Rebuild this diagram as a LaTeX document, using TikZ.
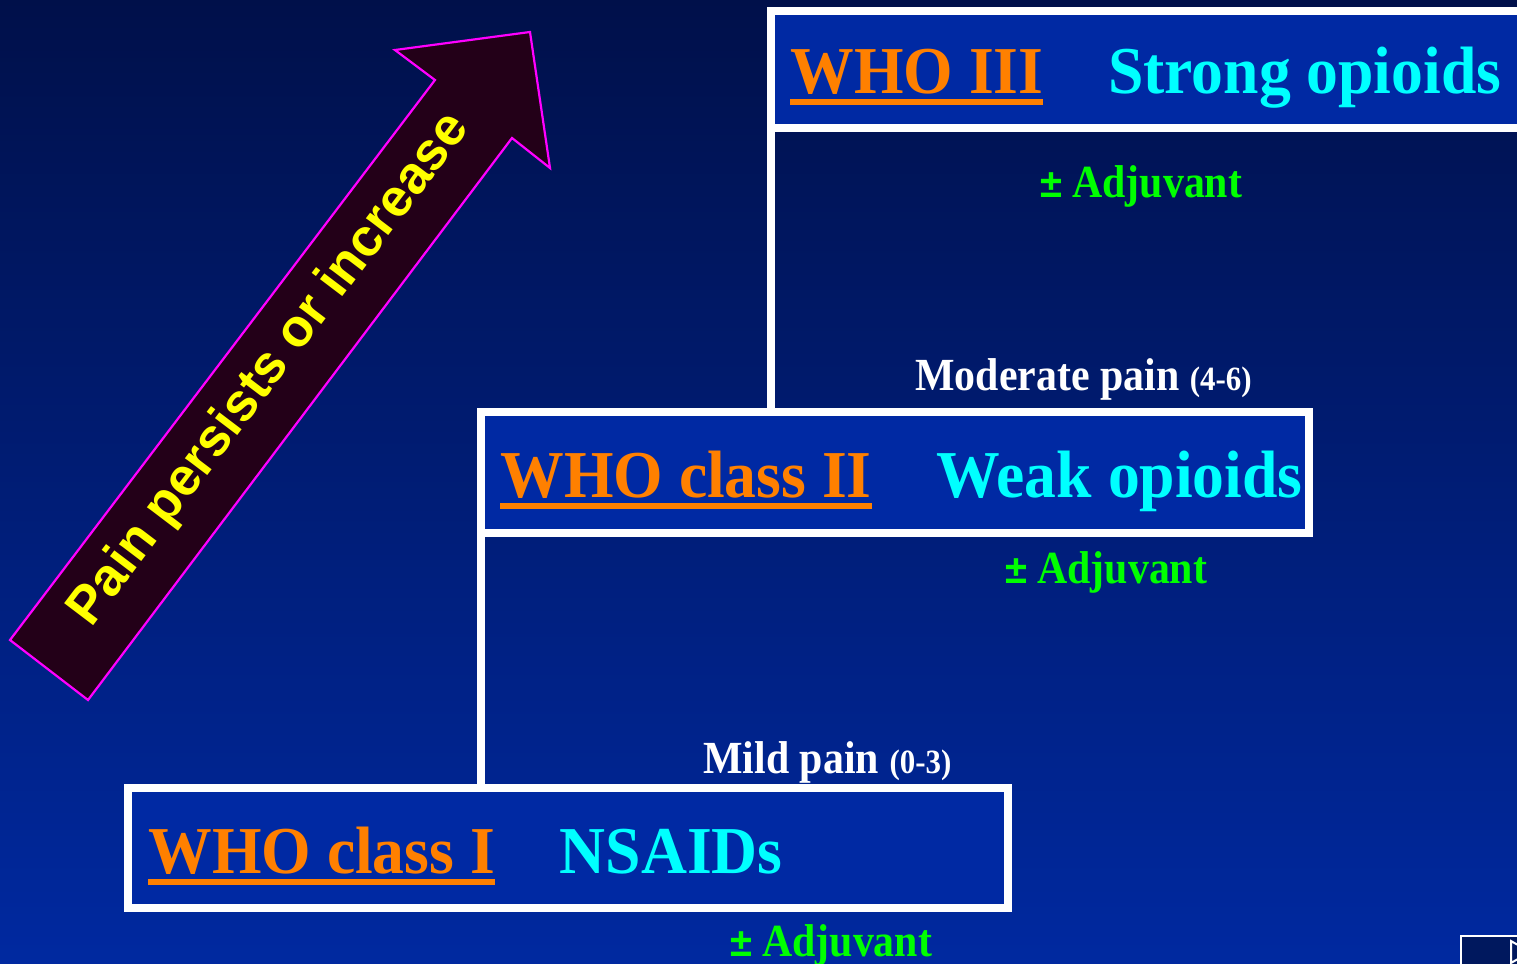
\documentclass[tikz,border=0pt]{standalone}
\usepackage{fontspec}
\setmainfont{Liberation Serif}
\newfontfamily\condserif{Liberation Serif}[FakeStretch=0.95]
\newfontfamily\narrowserif{Liberation Serif}[FakeStretch=0.91]
\newfontfamily\arrowfont{Liberation Sans}
\usetikzlibrary{positioning}
\definecolor{PyrNavyTop}{HTML}{00104A}
\definecolor{PyrNavyBot}{HTML}{0029A0}
\definecolor{PyrBox}{HTML}{0029A3}
\definecolor{PyrOrange}{HTML}{FF8000}
\definecolor{PyrCyan}{HTML}{00FFFF}
\definecolor{PyrGreen}{HTML}{00FF00}
\definecolor{PyrYellow}{HTML}{FFFF00}
\definecolor{PyrMagenta}{HTML}{FF00FF}
\definecolor{PyrMaroon}{HTML}{230018}
\definecolor{PyrNav}{HTML}{00185E}
\newcommand\wholine[1]{\setbox0\hbox{#1}\rlap{\rule[-6pt]{\wd0}{3pt}}\box0}
\newcommand\plusminus{{\arrowfont\bfseries\fontsize{20}{20}\selectfont ±}\hspace{5pt}}
\tikzset{
  stepbox/.style={draw=white, line width=3.8pt, fill=PyrBox, anchor=north west,
                  inner sep=0pt, outer sep=0pt},
  riser/.style={draw=white, line width=3.6pt},
  classlbl/.style={anchor=base west, text=PyrOrange, inner sep=0pt,
                   font=\condserif\bfseries\fontsize{33.5}{33.5}\selectfont},
  druglbl/.style={text=PyrCyan, inner sep=0pt,
                  font=\condserif\bfseries\fontsize{33.5}{33.5}\selectfont},
  adjlbl/.style={anchor=base west, text=PyrGreen, inner sep=0pt,
                 font=\narrowserif\bfseries\fontsize{23}{23}\selectfont},
  painlbl/.style={anchor=base west, text=white, inner sep=0pt,
                  font=\narrowserif\bfseries\fontsize{23}{23}\selectfont},
  risearrow/.style={draw=PyrMagenta, line width=1.1pt, fill=PyrMaroon, line join=miter},
  risetext/.style={text=PyrYellow, font=\arrowfont\bfseries\fontsize{26.5}{26.5}\selectfont,
                   rotate=52.8, inner sep=0pt}
}
\begin{document}
\begin{tikzpicture}[x=0.5pt, y=-0.5pt]
  \useasboundingbox (0,0) rectangle (1517,964);
  \shade[top color=PyrNavyTop, bottom color=PyrNavyBot] (0,0) rectangle (1517,964);

  % the three steps
  \node[stepbox, minimum width=400pt, minimum height=58.5pt] (who3) at (771,11) {};
  \node[stepbox, minimum width=414pt, minimum height=60.5pt] (who2) at (481,412) {};
  \node[stepbox, minimum width=440pt, minimum height=60pt] (who1) at (128,788) {};
  \draw[riser] (who3.south west) -- (who3.south west |- who2.north);
  \draw[riser] (who2.south west) -- (who2.south west |- who1.north);

  \node[classlbl] (c3) at (790,93) {\wholine{WHO III}};
  \node[druglbl, base right=32pt of c3] (d3) {Strong opioids};
  \node[classlbl] (c2) at (500,497) {\wholine{WHO class II}};
  \node[druglbl, base right=32pt of c2] (d2) {Weak opioids};
  \node[classlbl] (c1) at (148,873) {\wholine{WHO class I}};
  \node[druglbl, base right=32pt of c1] (d1) {NSAIDs};

  \node[adjlbl] (adj3) at (1040,197) {\plusminus Adjuvant};
  \node[adjlbl] (adj2) at (1005,583) {\plusminus Adjuvant};
  \node[adjlbl] (adj1) at (730,956) {\plusminus Adjuvant};
  \node[painlbl] (moderate) at (915,390) {Moderate pain {\fontsize{17}{17}\selectfont(4-6)}};
  \node[painlbl] (mild) at (703,773) {Mild pain {\fontsize{17}{17}\selectfont(0-3)}};

  % escalation arrow
  \draw[risearrow] (10,640) -- (435,80) -- (395,50) -- (530,32) -- (550,168)
    -- (512,138) -- (88,700) -- cycle;
  \node[risetext] (rise) at (270,370) {Pain persists or increase};

  % slide button
  \draw[white, line width=1pt, fill=PyrNav] (1461,936) rectangle (1540,990);
  \draw[white, line width=1pt] (1511,941) -- (1530,952) -- (1511,963) -- cycle;
\end{tikzpicture}
\end{document}
